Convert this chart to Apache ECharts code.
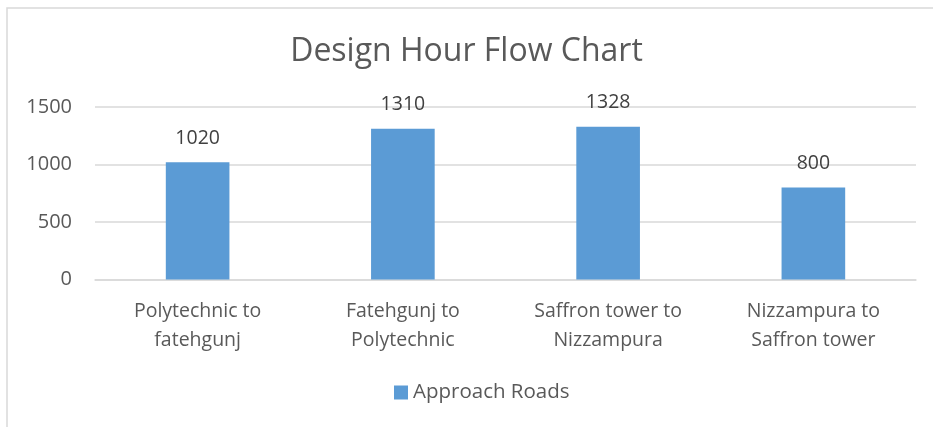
<!DOCTYPE html>
<html>
<head>
<meta charset="utf-8">
<script src="https://cdn.jsdelivr.net/npm/echarts@6/dist/echarts.min.js"></script>
<style>
html,body{margin:0;padding:0;background:#fff;}
#main{width:933px;height:427px;}
</style>
</head>
<body>
<div id="main"></div>
<script>
var categories = ['Polytechnic to\nfatehgunj', 'Fatehgunj to\nPolytechnic', 'Saffron tower to\nNizzampura', 'Nizzampura to\nSaffron tower'];
var approachRoads = [1020, 1310, 1328, 800];
var seriesName = 'Approach Roads';

var font = 'Open Sans';
var myChar = echarts.init(document.getElementById('main'));
var myOption = {
	backgroundColor: '#fff',
	textStyle: { fontFamily: font },
	graphic: [{
		type: 'rect',
		shape: { x: 7, y: 8, width: 1200, height: 1000 },
		style: { fill: 'none', stroke: '#D9D9D9', lineWidth: 1.5 },
		silent: true
	}],
	title: {
		text: 'Design Hour Flow Chart',
		left: 'center',
		top: 31,
		textStyle: { fontFamily: font, fontSize: 32, fontWeight: 'normal', color: '#595959' }
	},
	legend: {
		bottom: 19,
		left: 389,
		icon: 'rect',
		itemWidth: 14,
		itemHeight: 14,
		itemGap: 6,
		textStyle: { fontFamily: font, fontSize: 20.5, color: '#595959' },
		data: [seriesName]
	},
	grid: { left: 95, right: 17, top: 107, bottom: 147.5 },
	xAxis: {
		type: 'category',
		data: categories,
		axisLine: { lineStyle: { color: '#D9D9D9', width: 1.5 } },
		axisTick: { show: false },
		axisLabel: { fontFamily: font, fontSize: 19.5, color: '#595959', lineHeight: 29, margin: 17 }
	},
	yAxis: {
		type: 'value',
		min: 0,
		max: 1500,
		interval: 500,
		axisLine: { show: false },
		axisTick: { show: false },
		splitLine: { lineStyle: { color: '#D9D9D9', width: 1.5 } },
		axisLabel: {
			fontFamily: font, fontSize: 20, color: '#595959', margin: 23,
			formatter: function (value) { return String(value); }
		}
	},
	series: [{
		name: seriesName,
		type: 'bar',
		data: approachRoads,
		barWidth: '31%',
		itemStyle: { color: '#5B9BD5' },
		label: { show: true, position: 'top', distance: 14, fontFamily: font, fontSize: 19.5, color: '#404040' }
	}],
	animation: false
};
myChar.setOption(myOption);
</script>
</body>
</html>
